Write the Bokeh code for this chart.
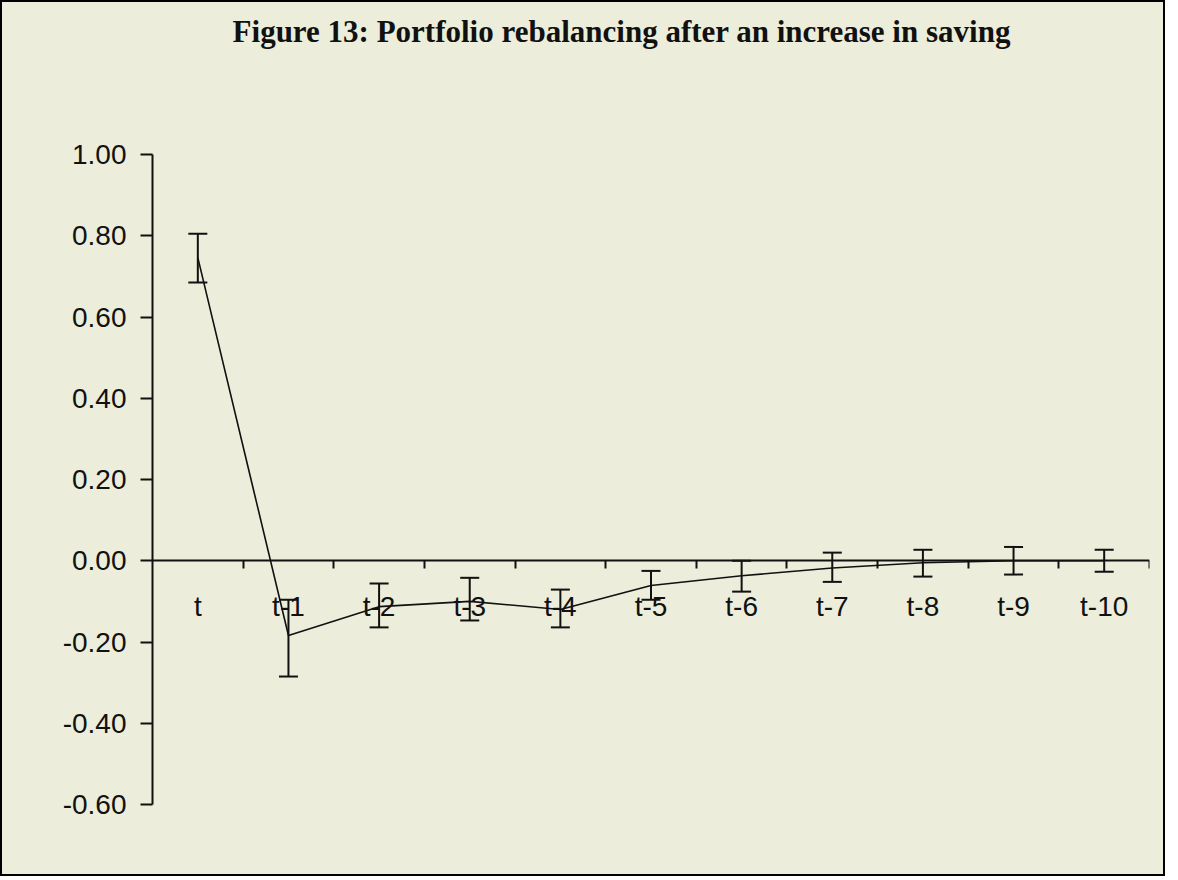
from bokeh.plotting import figure
from bokeh.models import (Range1d, LinearAxis, FixedTicker, Whisker, Div,
                          TeeHead, ColumnDataSource, NumeralTickFormatter)
from bokeh.layouts import column
from bokeh.embed import file_html
from bokeh.resources import INLINE

categories = ["t", "t-1", "t-2", "t-3", "t-4", "t-5", "t-6", "t-7", "t-8", "t-9", "t-10"]
estimate = [0.746, -0.184, -0.113, -0.100, -0.120, -0.061, -0.037, -0.018, -0.005, 0.000, 0.000]
upper = [0.805, -0.096, -0.056, -0.042, -0.071, -0.025, 0.000, 0.020, 0.027, 0.034, 0.027]
lower = [0.685, -0.285, -0.164, -0.147, -0.164, -0.096, -0.076, -0.052, -0.039, -0.034, -0.027]
y_ticks = [-0.6, -0.4, -0.2, 0.0, 0.2, 0.4, 0.6, 0.8, 1.0]
title_text = "Figure 13: Portfolio rebalancing after an increase in saving"

bg = "#ecedda"
ink = "#111111"
n = len(categories)
xpos = [i + 0.5 for i in range(n)]  # category centres on a 0..n axis
src = ColumnDataSource(dict(x=xpos, y=estimate, upper=upper, lower=lower))

W = 1161

title = Div(text=title_text, width=W, height=60, margin=0,
            styles={"font-family": "'Liberation Serif', serif", "font-size": "31px",
                    "font-weight": "bold", "color": ink, "text-align": "center",
                    "line-height": "60px", "padding-left": "78px",
                    "box-sizing": "border-box", "background-color": bg})

p = figure(width=W, height=812, x_range=Range1d(0, n),
           y_range=Range1d(y_ticks[0], y_ticks[-1]), output_backend="svg", toolbar_location=None,
           min_border_left=150, min_border_right=14, min_border_top=92,
           min_border_bottom=70, margin=0)
p.background_fill_color = bg
p.border_fill_color = bg
p.outline_line_color = None
p.grid.visible = False

p.line("x", "y", source=src, line_color=ink, line_width=1.6)
w = Whisker(base="x", upper="upper", lower="lower", source=src,
            line_color=ink, line_width=2,
            upper_head=TeeHead(size=19, line_color=ink, line_width=2),
            lower_head=TeeHead(size=19, line_color=ink, line_width=2))
p.add_layout(w)

# y axis
ya = p.yaxis[0]
ya.ticker = FixedTicker(ticks=y_ticks)
ya.formatter = NumeralTickFormatter(format="0.00")
ya.axis_line_width = 2
ya.axis_line_color = ink
ya.major_tick_line_width = 2
ya.major_tick_line_color = ink
ya.major_tick_out = 12
ya.major_tick_in = 0
ya.minor_tick_line_color = None
ya.major_label_text_font = "Liberation Sans"
ya.major_label_text_font_size = "28px"
ya.major_label_text_color = ink
ya.major_label_standoff = 14

# category-label axis at y = 0
xa = p.xaxis[0]
xa.fixed_location = 0
xa.ticker = FixedTicker(ticks=xpos)
xa.major_label_overrides = {x: c for x, c in zip(xpos, categories)}
xa.axis_line_width = 2
xa.axis_line_color = ink
xa.major_tick_line_color = None
xa.minor_tick_line_color = None
xa.major_label_text_font = "Liberation Sans"
xa.major_label_text_font_size = "28px"
xa.major_label_text_color = ink
xa.major_label_standoff = 24

# boundary tick marks between categories
ba = LinearAxis(ticker=FixedTicker(ticks=list(range(1, n + 1))),
                fixed_location=0, axis_line_color=None, major_tick_line_color=ink,
                major_tick_line_width=2, major_tick_in=0, major_tick_out=8,
                minor_tick_line_color=None, major_label_text_color=None)
p.add_layout(ba, "below")

layout = column(title, p, spacing=0, margin=0,
                styles={"border": "2px solid #000000", "background-color": bg})

open("out.html", "w").write(file_html(layout, INLINE))
